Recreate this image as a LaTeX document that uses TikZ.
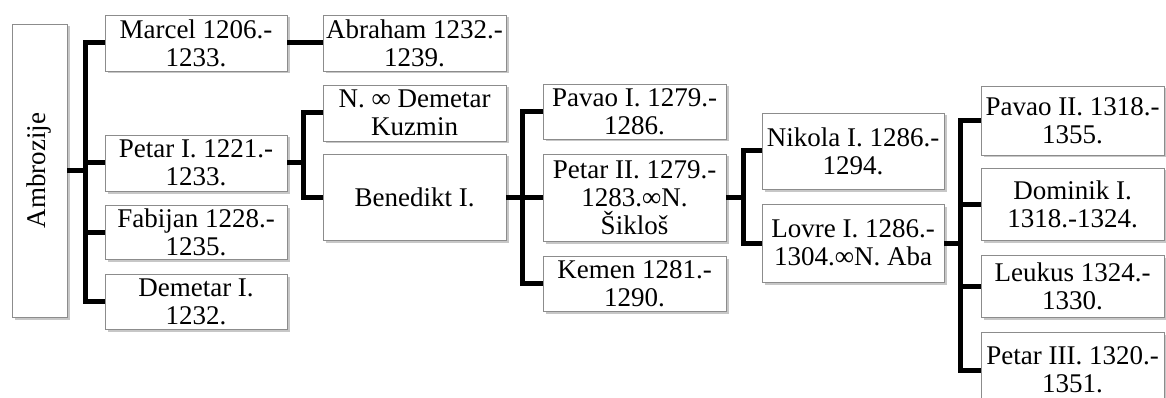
\documentclass[tikz,border=0pt]{standalone}
\usepackage{fontspec}
\usepackage{graphicx}
\setmainfont{Liberation Serif}
\usetikzlibrary{shadows}
\begin{document}
\begin{tikzpicture}[x=1pt,y=-1pt,
  box/.style={draw=black!45, line width=0.8pt, fill=white, rectangle, inner sep=0pt,
    align=center, font=\fontsize{27}{28}\selectfont,
    drop shadow={shadow xshift=2.5pt, shadow yshift=-2.5pt, fill=black!22, opacity=1}},
  link/.style={line width=5pt, black}]
\useasboundingbox (0,0) rectangle (1166,398);
\clip (0,0) rectangle (1166,398);
\node[box, minimum width=55pt, minimum height=293pt] (amb) at (39.5,170.5) {\rotatebox{90}{Ambrozije}};
\node[box, minimum width=182pt, minimum height=56pt] (marcel) at (196,43) {Marcel 1206.-\\1233.};
\node[box, minimum width=183pt, minimum height=56pt] (abraham) at (414.5,43) {Abraham 1232.-\\1239.};
\node[box, minimum width=182pt, minimum height=56pt] (petar1) at (196,163) {Petar I. 1221.-\\1233.};
\node[box, minimum width=182pt, minimum height=54pt] (fabijan) at (196,232) {Fabijan 1228.-\\1235.};
\node[box, minimum width=182pt, minimum height=55pt] (demetar1) at (196,301.5) {Demetar I.\\1232.};
\node[box, minimum width=183pt, minimum height=56pt] (kuzmin) at (414.5,113) {N. ∞ Demetar\\Kuzmin};
\node[box, minimum width=183pt, minimum height=86pt] (benedikt) at (414.5,197) {Benedikt I.};
\node[box, minimum width=183pt, minimum height=55pt] (pavao1) at (634.5,111.5) {Pavao I. 1279.-\\1286.};
\node[box, minimum width=183pt, minimum height=87pt] (petar2) at (634.5,197.5) {Petar II. 1279.-\\1283.∞N.\\Šikloš};
\node[box, minimum width=183pt, minimum height=55pt] (kemen) at (634.5,283.5) {Kemen 1281.-\\1290.};
\node[box, minimum width=182pt, minimum height=76pt] (nikola) at (853,151) {Nikola I. 1286.-\\1294.};
\node[box, minimum width=182pt, minimum height=78pt] (lovre) at (853,243) {Lovre I. 1286.-\\1304.∞N. Aba};
\node[box, minimum width=183pt, minimum height=69pt] (pavao2) at (1072.5,120.5) {Pavao II. 1318.-\\1355.};
\node[box, minimum width=183pt, minimum height=72pt] (dominik) at (1072.5,204) {Dominik I.\\1318.-1324.};
\node[box, minimum width=183pt, minimum height=62pt] (leukus) at (1072.5,286) {Leukus 1324.-\\1330.};
\node[box, minimum width=183pt, minimum height=76pt] (petar3) at (1072.5,370) {Petar III. 1320.-\\1351.};
% connectors
\foreach \c in {marcel,petar1,fabijan,demetar1}
  \draw[link] (amb.east) -- ++(18,0) |- (\c.west);
\draw[link] (marcel.east) -- (abraham.west);
\foreach \c in {kuzmin,benedikt}
  \draw[link] (petar1.east) -- ++(16,0) |- (\c.west);
\foreach \c in {pavao1,petar2,kemen}
  \draw[link] (benedikt.east) -- ++(16,0) |- (\c.west);
\foreach \c in {nikola,lovre}
  \draw[link] (petar2.east) -- ++(17,0) |- (\c.west);
\foreach \c in {pavao2,dominik,leukus,petar3}
  \draw[link] (lovre.east) -- ++(16,0) |- (\c.west);
\end{tikzpicture}
\end{document}
